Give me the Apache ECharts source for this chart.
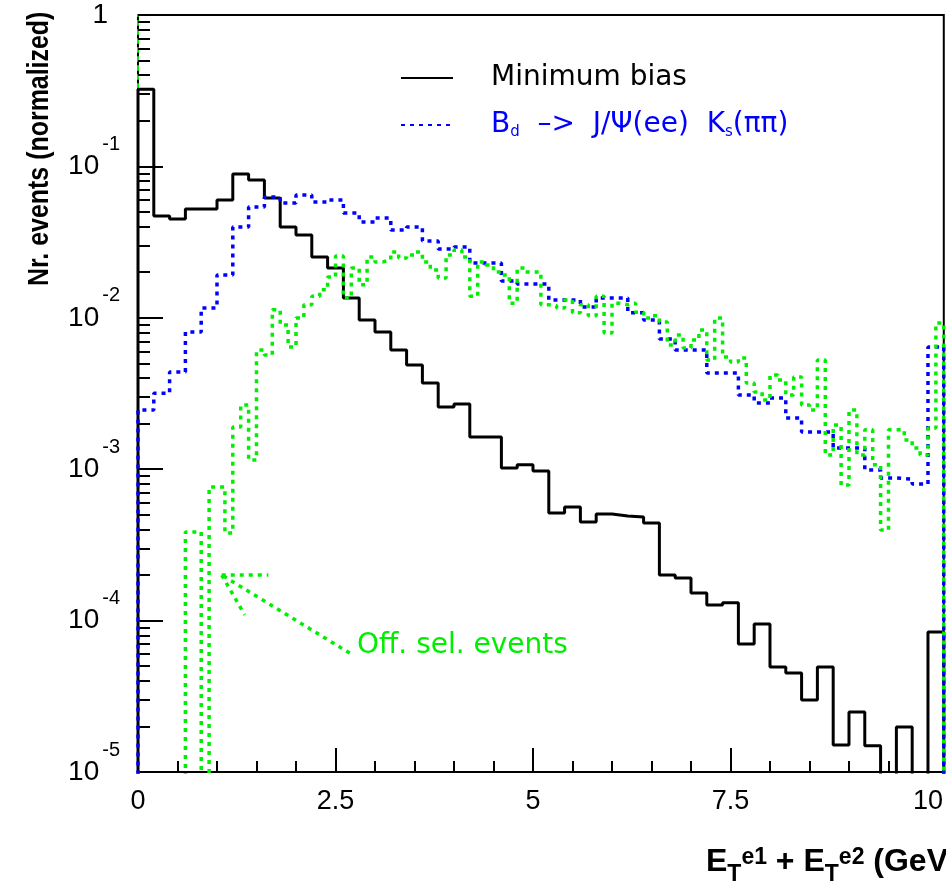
<!DOCTYPE html>
<html>
<head>
<meta charset="utf-8">
<script src="https://cdn.jsdelivr.net/npm/echarts@6/dist/echarts.min.js"></script>
<style>
html, body { margin: 0; padding: 0; background: #fff; }
#chart { width: 946px; height: 884px; }
</style>
</head>
<body>
<div id="chart"></div>
<script>
// bin widths (GeV)
var binWidth = 0.2;       // Minimum bias, Bd signal
var offBinWidth = 0.1;    // off-line selected events
var xMax = 10.2;

// normalized contents per bin (0 = empty bin)
var minBias = [
  0.323, 0.0470, 0.0450, 0.0523, 0.0523, 0.0600, 0.0891, 0.0813, 0.0618, 0.0398,
  0.0352, 0.0252, 0.0213, 0.0135, 0.00967, 0.00806, 0.00612, 0.00488, 0.00371, 0.00258,
  0.00270, 0.00163, 0.00163, 0.00102, 0.00107, 0.000973, 0.000514, 0.000563, 0.000448, 0.000506,
  0.000491, 0.000483, 0.000441, 0.000200, 0.000191, 0.000152, 0.000127, 0.000131, 0.0000700, 0.0000950,
  0.0000494, 0.0000451, 0.0000299, 0.0000494, 0.0000151, 0.0000249, 0.0000149, 0, 0.0000198, 0,
  0.0000841
];
var bdSignal = [
  0.00246, 0.00318, 0.00439, 0.00806, 0.0116, 0.0192, 0.0398, 0.0539, 0.0628, 0.0573,
  0.0647, 0.0582, 0.0600, 0.0492, 0.0430, 0.0456, 0.0380, 0.0398, 0.0321, 0.0285,
  0.0294, 0.0230, 0.0230, 0.0175, 0.0167, 0.0167, 0.0131, 0.0131, 0.0118, 0.0135,
  0.0135, 0.0108, 0.00967, 0.00725, 0.00612, 0.00612, 0.00432, 0.00432, 0.00309, 0.00274,
  0.00295, 0.00218, 0.00176, 0.00176, 0.00138, 0.00138, 0.000989, 0.000875, 0.000861, 0.000798,
  0.00641
];
var offSel = [
  0, 0, 0, 0, 0, 0, 3.85e-4, 3.85e-4, 0, 7.63e-4,
  7.63e-4, 3.79e-4, 1.90e-3, 2.65e-3, 1.15e-3, 6.12e-3, 5.68e-3, 1.13e-2, 8.96e-3, 6.41e-3,
  9.97e-3, 1.22e-2, 1.39e-2, 1.53e-2, 1.86e-2, 2.56e-2, 1.35e-2, 2.13e-2, 1.65e-2, 2.52e-2,
  2.34e-2, 2.41e-2, 2.72e-2, 2.48e-2, 2.60e-2, 2.72e-2, 2.34e-2, 2.07e-2, 1.83e-2, 2.60e-2,
  2.80e-2, 2.52e-2, 1.39e-2, 2.34e-2, 2.23e-2, 2.01e-2, 1.92e-2, 1.25e-2, 2.13e-2, 2.01e-2,
  2.01e-2, 1.22e-2, 1.20e-2, 1.16e-2, 1.31e-2, 1.08e-2, 1.22e-2, 1.03e-2, 1.39e-2, 7.94e-3,
  1.25e-2, 1.22e-2, 1.25e-2, 1.09e-2, 9.97e-3, 1.03e-2, 9.38e-3, 6.61e-3, 7.69e-3, 6.32e-3,
  7.13e-3, 8.30e-3, 5.26e-3, 9.97e-3, 5.51e-3, 5.11e-3, 5.42e-3, 3.71e-3, 3.24e-3, 2.86e-3,
  4.19e-3, 3.88e-3, 3.09e-3, 4.06e-3, 2.65e-3, 2.46e-3, 5.26e-3, 1.24e-3, 1.96e-3, 7.87e-4,
  2.46e-3, 1.24e-3, 1.82e-3, 1.07e-3, 3.97e-4, 1.82e-3, 1.82e-3, 1.56e-3, 1.38e-3, 1.24e-3,
  1.87e-3, 9.24e-3
];

var xTicks = [0, 2.5, 5, 7.5, 10];
var yDecades = [1e-5, 1e-4, 1e-3, 1e-2, 1e-1, 1];

// annotation arrow (data coords): tail, tip, two head ends
var arrowTail = [2.68, 6.1e-5];
var arrowTip = [1.06, 2.0e-4];
var arrowHeadA = [1.65, 2.0e-4];
var arrowHeadB = [1.35, 1.09e-4];

var GREEN = '#00ee00';
var BLUE = '#0000ff';
var FLOOR = 1e-9; // empty bins drop below the log axis

// histogram outline: rises from the floor, one point per bin left edge, drops at the end
function histPoints(vals, w) {
  var pts = [[0, FLOOR]];
  for (var i = 0; i < vals.length; i++) {
    pts.push([+(i * w).toFixed(3), vals[i] > 0 ? vals[i] : FLOOR]);
  }
  var last = vals[vals.length - 1];
  var xEnd = +(vals.length * w).toFixed(3);
  pts.push([xEnd, last > 0 ? last : FLOOR]);
  pts.push([xEnd, FLOOR]);
  return pts;
}

var xMinor = [];
for (var i = 1; i <= 20; i++) xMinor.push(i * 0.5);
var yMinor = [];
for (var d = -5; d < 0; d++) {
  for (var m = 2; m <= 9; m++) yMinor.push(m * Math.pow(10, d));
}

var chart = echarts.init(document.getElementById('chart'));

var option = {
  animation: false,
  backgroundColor: '#fff',
  grid: { left: 138, top: 15, right: 2, bottom: 112, show: true, borderColor: '#000', borderWidth: 2 },
  title: {
    text: '{e|E}{sub|T}{sup|e1}{e| + E}{sub|T}{sup|e2}{e| (GeV)}',
    left: 701, top: 834,
    textStyle: {
      rich: {
        e: { fontSize: 32, fontWeight: 'bold', fontFamily: 'Liberation Sans', color: '#000' },
        sub: { fontSize: 23, fontWeight: 'bold', fontFamily: 'Liberation Sans', color: '#000', padding: [24, 0, 0, 0] },
        sup: { fontSize: 23, fontWeight: 'bold', fontFamily: 'Liberation Sans', color: '#000', padding: [0, 0, 10, 0] }
      }
    }
  },
  legend: {
    orient: 'vertical',
    left: 395, top: 59,
    itemWidth: 52, itemHeight: 20, itemGap: 19,
    selectedMode: false,
    itemStyle: { opacity: 0 },
    data: ['Minimum bias', 'Bd'],
    formatter: function (name) {
      if (name === 'Minimum bias') return '{k|Minimum bias}';
      return '{b|B}{bs|d}{b|  \u2013>  J/\u03a8(ee)  K}{bs|s}{b|(\u03c0\u03c0)}';
    },
    textStyle: {
      padding: [0, 0, 0, 33],
      rich: {
        k: { fontSize: 28, fontFamily: 'DejaVu Sans', color: '#000' },
        b: { fontSize: 28, fontFamily: 'DejaVu Sans', color: BLUE },
        bs: { fontSize: 15, fontFamily: 'DejaVu Sans', color: BLUE, padding: [14, 0, 0, 0] }
      }
    }
  },
  xAxis: [
    {
      type: 'value', min: 0, max: xMax, position: 'bottom',
      axisLine: { show: true, lineStyle: { color: '#000', width: 2 } },
      axisTick: { show: true, inside: true, length: 24, customValues: xTicks, lineStyle: { color: '#000', width: 2 } },
      axisLabel: { customValues: xTicks, margin: 16, fontSize: 27, fontFamily: 'Liberation Sans', color: '#000' },
      splitLine: { show: false }
    },
    {
      type: 'value', min: 0, max: xMax, position: 'bottom',
      axisLine: { show: false },
      axisTick: { show: true, inside: true, length: 11, customValues: xMinor, lineStyle: { color: '#000', width: 2 } },
      axisLabel: { show: false },
      splitLine: { show: false }
    }
  ],
  yAxis: [
    {
      type: 'log', logBase: 10, min: 1e-5, max: 1, position: 'left',
      axisLine: { show: true, lineStyle: { color: '#000', width: 2 } },
      axisTick: { show: true, inside: true, length: 25, customValues: yDecades, lineStyle: { color: '#000', width: 2 } },
      axisLabel: {
        customValues: yDecades,
        margin: 18,
        formatter: function (v) {
          if (v > 0.5) return '{one|1}';
          return '{base|10}{exp|' + Math.round(Math.log10(v)) + '}';
        },
        rich: {
          base: { fontSize: 28, fontFamily: 'Liberation Sans', color: '#000' },
          exp: { fontSize: 20, fontFamily: 'Liberation Sans', color: '#000', padding: [0, 0, 44, 3] },
          one: { fontSize: 28, fontFamily: 'Liberation Sans', color: '#000', padding: [0, 12, 0, 0] }
        }
      },
      splitLine: { show: false }
    },
    {
      type: 'log', logBase: 10, min: 1e-5, max: 1, position: 'left',
      axisLine: { show: false },
      axisTick: { show: true, inside: true, length: 12, customValues: yMinor, lineStyle: { color: '#000', width: 2 } },
      axisLabel: { show: false },
      splitLine: { show: false }
    },
    {
      type: 'log', logBase: 10, min: 1e-5, max: 1, position: 'left',
      axisLine: { show: true, lineStyle: { color: GREEN, width: 2, type: [4, 5] } },
      axisTick: { show: false }, axisLabel: { show: false }, splitLine: { show: false }
    }
  ],
  graphic: [
    {
      // condensed bold title: larger font squeezed along the baseline
      type: 'text', x: 25, y: 286, rotation: Math.PI / 2, scaleX: 0.86,
      style: { text: 'Nr. events (normalized)', font: 'bold 29px "Liberation Sans"', fill: '#000', align: 'left', verticalAlign: 'top' }
    },
    {
      type: 'text', left: 357, top: 632,
      style: { text: 'Off. sel. events', font: '28px "DejaVu Sans"', fill: GREEN }
    }
  ],
  series: [
    {
      name: 'Minimum bias', type: 'line', step: 'end', symbol: 'none', clip: true,
      data: histPoints(minBias, binWidth),
      lineStyle: { color: '#000', width: 3 }, itemStyle: { color: '#000' },
      emphasis: { disabled: true }
    },
    {
      name: 'Bd', type: 'line', step: 'end', symbol: 'none', clip: true,
      data: histPoints(bdSignal, binWidth),
      lineStyle: { color: BLUE, width: 3.5, type: [4, 5] }, itemStyle: { color: BLUE },
      emphasis: { disabled: true }
    },
    {
      name: 'Off. sel. events', type: 'line', step: 'end', symbol: 'none', clip: true,
      data: histPoints(offSel, offBinWidth),
      lineStyle: { color: GREEN, width: 3.5, type: [4, 5] }, itemStyle: { color: GREEN },
      emphasis: { disabled: true },
      markLine: {
        silent: true, animation: false, symbol: ['none', 'none'],
        label: { show: false },
        lineStyle: { color: GREEN, width: 3.5, type: [4, 5] },
        emphasis: { disabled: true },
        data: [
          [{ coord: arrowTail }, { coord: arrowTip }],
          [{ coord: arrowTip }, { coord: arrowHeadA }],
          [{ coord: arrowTip }, { coord: arrowHeadB }]
        ]
      }
    }
  ]
};

chart.setOption(option);
window.onresize = function () { chart.resize(); };
</script>
</body>
</html>
